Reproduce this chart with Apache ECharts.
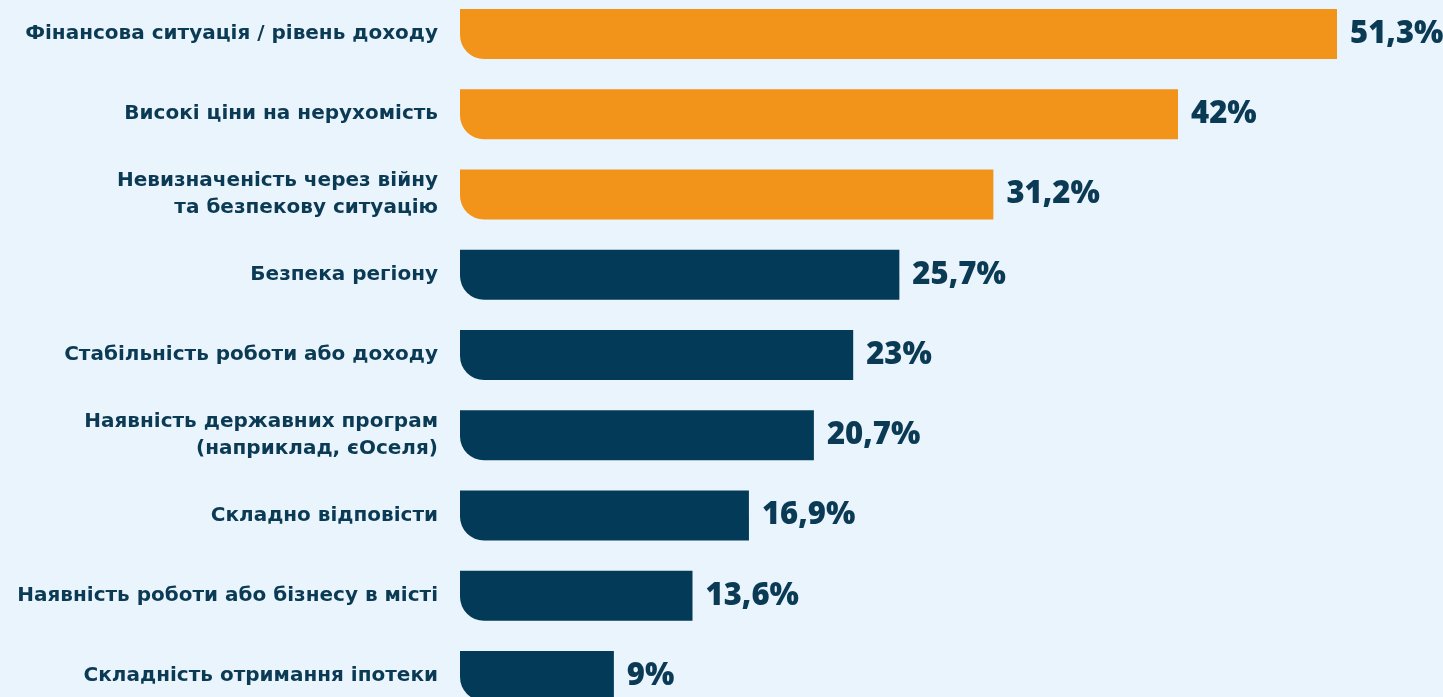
<!DOCTYPE html>
<html>
<head>
<meta charset="utf-8">
<script src="https://cdn.jsdelivr.net/npm/echarts@6/dist/echarts.min.js"></script>
<style>
html,body{margin:0;padding:0;background:#EAF4FC;}
#c{width:1443px;height:697px;}
</style>
</head>
<body>
<div id="c"></div>
<script>
const categories = [
  "Фінансова ситуація / рівень доходу",
  "Високі ціни на нерухомість",
  "Невизначеність через війну\nта безпекову ситуацію",
  "Безпека регіону",
  "Стабільність роботи або доходу",
  "Наявність державних програм\n(наприклад, єОселя)",
  "Складно відповісти",
  "Наявність роботи або бізнесу в місті",
  "Складність отримання іпотеки"
];
const values = [51.3, 42, 31.2, 25.7, 23, 20.7, 16.9, 13.6, 9];
const highlightCount = 3;
const ORANGE = "#F2931A";
const NAVY = "#033A57";
const TEXT = "#0B3A55";

const chart = echarts.init(document.getElementById('c'));
chart.setOption({
  backgroundColor: "#EAF4FC",
  animation: false,
  grid: { left: 460, right: 106, top: 34, bottom: 21, containLabel: false },
  xAxis: {
    type: 'value', min: 0, max: Math.max(...values),
    show: false
  },
  yAxis: {
    type: 'category', data: categories, inverse: true, boundaryGap: false,
    axisLine: { show: false }, axisTick: { show: false },
    axisLabel: {
      margin: 22, color: TEXT, fontSize: 20, fontWeight: 'bold',
      fontFamily: "DejaVu Sans", lineHeight: 27, align: 'right',
      padding: [3, 0, 0, 0]
    }
  },
  series: [{
    type: 'bar',
    barWidth: 50,
    data: values.map((v, i) => ({
      value: v,
      itemStyle: { color: i < highlightCount ? ORANGE : NAVY }
    })),
    itemStyle: { borderRadius: [0, 0, 0, 24] },
    label: {
      show: true, position: 'right', distance: 13,
      color: TEXT, fontSize: 31, fontWeight: 800, fontFamily: "Open Sans",
      formatter: p => String(p.value).replace('.', ',') + '%'
    }
  }]
});
</script>
</body>
</html>
